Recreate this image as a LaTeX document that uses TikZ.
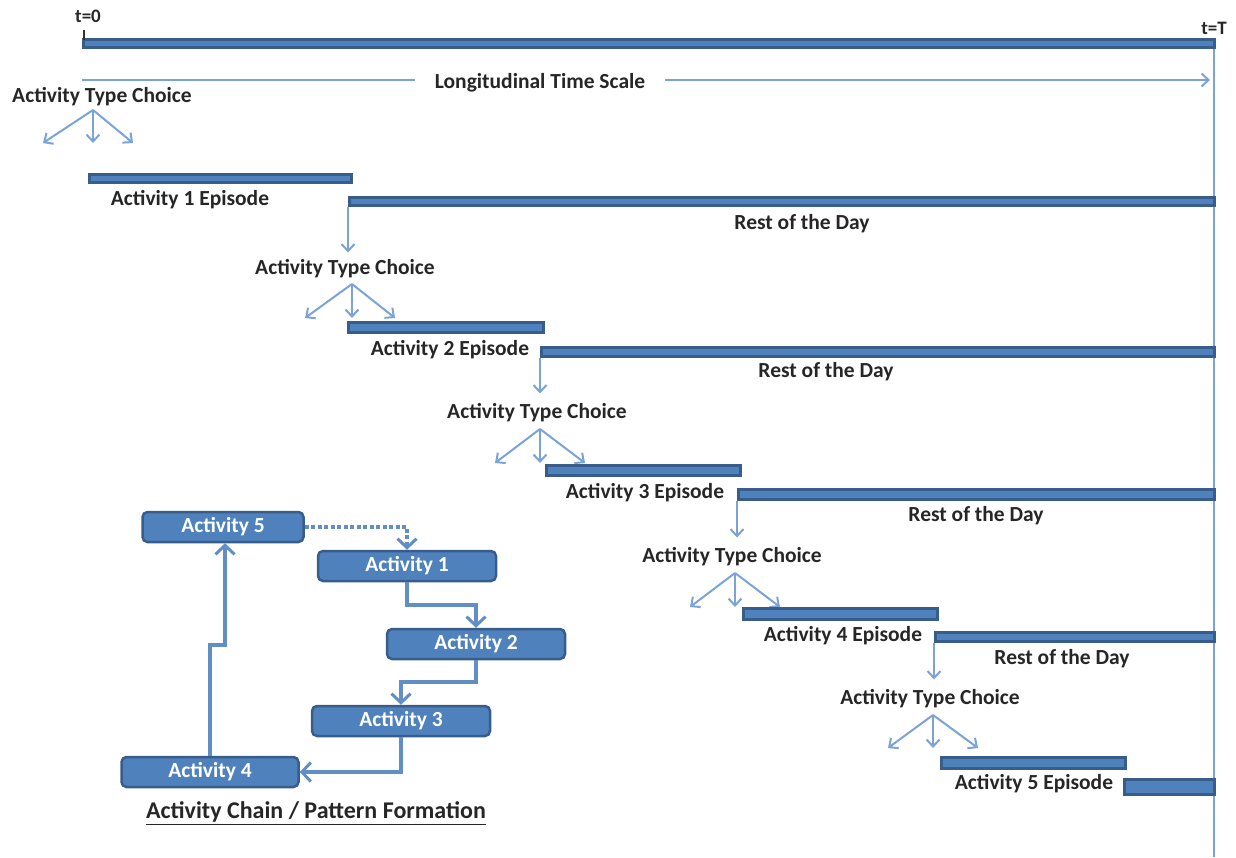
\documentclass[tikz,border=0pt]{standalone}
\usepackage{fontspec}
\setmainfont{Carlito}
\usetikzlibrary{arrows.meta}
\definecolor{bardark}{HTML}{385D8A}
\definecolor{barfill}{HTML}{4F81BD}
\definecolor{lightline}{HTML}{7BA3D6}
\tikzset{
  bar/.style={draw=bardark, fill=barfill, line width=2.5pt, inner sep=0pt, anchor=north west},
  lbl/.style={font=\fontsize{21.5}{24}\selectfont\bfseries, text=black!85, inner sep=1pt},
  choicearrow/.style={draw=lightline, line width=2pt, -{Straight Barb[length=7pt,width=13pt,line width=2pt]}},
  abox/.style={draw=bardark, fill=barfill, line width=2.5pt, rounded corners=5pt, minimum height=30pt, text=white, font=\fontsize{21.5}{24}\selectfont\bfseries, inner sep=0pt},
  chain/.style={draw=barfill!90!white, line width=3.5pt, -{Straight Barb[length=9pt,width=19pt,line width=3pt]}}
}
\begin{document}
\begin{tikzpicture}[x=1pt,y=-1pt]
\useasboundingbox (0,0) rectangle (1236,857);
% time axis
\coordinate (t0) at (82,40);
\coordinate (tT) at (1214,40);
\coordinate (tbot) at (1214,857);
\draw[lightline, line width=2.5pt] (tT) -- (tbot);
\node[bar, minimum width=1131, minimum height=8] (top) at (82,38) {};
\node[lbl, font=\fontsize{19}{22}\selectfont\bfseries] (t0l) at (88,16) {t=0};
\node[lbl, font=\fontsize{19}{22}\selectfont\bfseries] (tTl) at (1214,28) {t=T};
\draw[black!80, line width=1.2pt] (84,30) -- (84,40);
% longitudinal scale
\node[lbl, inner xsep=20pt] (lts) at (540,83) {Longitudinal Time Scale};
\coordinate (ls0) at (82,80);
\coordinate (ls1) at (1210,80);
\draw[lightline, line width=2pt] (ls0) -- (lts.west |- ls0);
\draw[choicearrow] (lts.east |- ls0) -- (ls1);
% stage 1
\node[lbl] (c1) at (102,97) {Activity Type Choice};
\coordinate (c1o) at (93,110);
\draw[choicearrow] (c1o) -- ++(-50,33);
\draw[choicearrow] (c1o) -- ++(0,33);
\draw[choicearrow] (c1o) -- ++(40,33);
\node[bar, minimum width=262, minimum height=8] (e1) at (88,173) {};
\node[lbl] (e1l) at (190,200) {Activity 1 Episode};
\node[bar, minimum width=865, minimum height=8] (r1) at (348,196) {};
\node[lbl] (r1l) at (802,224) {Rest of the Day};
% stage 2
\draw[choicearrow] (r1.south west) -- ++(0,46);
\node[lbl] (c2) at (345,269) {Activity Type Choice};
\coordinate (c2o) at (352,284);
\draw[choicearrow] (c2o) -- ++(-47,34);
\draw[choicearrow] (c2o) -- ++(0,34);
\draw[choicearrow] (c2o) -- ++(43,34);
\node[bar, minimum width=195, minimum height=10] (e2) at (347,321) {};
\node[lbl] (e2l) at (450,350) {Activity 2 Episode};
\node[bar, minimum width=673, minimum height=9] (r2) at (540,346) {};
\node[lbl] (r2l) at (826,372) {Rest of the Day};
% stage 3
\draw[choicearrow] (r2.south west) -- ++(0,36);
\node[lbl] (c3) at (537,413) {Activity Type Choice};
\coordinate (c3o) at (540,429);
\draw[choicearrow] (c3o) -- ++(-45,34);
\draw[choicearrow] (c3o) -- ++(0,34);
\draw[choicearrow] (c3o) -- ++(45,34);
\node[bar, minimum width=194, minimum height=10] (e3) at (545,464) {};
\node[lbl] (e3l) at (645,493) {Activity 3 Episode};
\node[bar, minimum width=476, minimum height=10] (r3) at (737,488) {};
\node[lbl] (r3l) at (976,516) {Rest of the Day};
% stage 4
\draw[choicearrow] (r3.south west) -- ++(0,37);
\node[lbl] (c4) at (732,557) {Activity Type Choice};
\coordinate (c4o) at (735,573);
\draw[choicearrow] (c4o) -- ++(-45,34);
\draw[choicearrow] (c4o) -- ++(0,34);
\draw[choicearrow] (c4o) -- ++(45,34);
\node[bar, minimum width=194, minimum height=11] (e4) at (742,607) {};
\node[lbl] (e4l) at (843,636) {Activity 4 Episode};
\node[bar, minimum width=279, minimum height=9] (r4) at (934,631) {};
\node[lbl] (r4l) at (1062,659) {Rest of the Day};
% stage 5
\draw[choicearrow] (r4.south west) -- ++(0,37);
\node[lbl] (c5) at (930,699) {Activity Type Choice};
\coordinate (c5o) at (933,715);
\draw[choicearrow] (c5o) -- ++(-45,33);
\draw[choicearrow] (c5o) -- ++(0,33);
\draw[choicearrow] (c5o) -- ++(45,33);
\node[bar, minimum width=184, minimum height=11] (e5) at (940,756) {};
\node[lbl] (e5l) at (1034,784) {Activity 5 Episode};
\node[bar, minimum width=90, minimum height=15] (r5) at (1123,778) {};
% chain
\node[abox, minimum width=161] (a5) at (223,527) {Activity 5};
\node[abox, minimum width=178] (a1) at (407,566) {Activity 1};
\node[abox, minimum width=178] (a2) at (476,644) {Activity 2};
\node[abox, minimum width=178] (a3) at (401,721) {Activity 3};
\node[abox, minimum width=177] (a4) at (210,772) {Activity 4};
\draw[chain, dash pattern=on 4pt off 2.5pt] (a5.east) -| (a1.north);
\draw[chain] (a1.south) |- (476,605) -- (a2.north);
\draw[chain] (a2.south) |- (401,682) -- (a3.north);
\draw[chain] (a3.south) |- (a4.east);
\draw[chain] (a4.north) |- (225,645) -- (a5.south -| 225,0);
\node[lbl, font=\fontsize{24}{27}\selectfont\bfseries] (cap) at (316,813) {\underline{Activity Chain / Pattern Formation}};
\end{tikzpicture}
\end{document}
